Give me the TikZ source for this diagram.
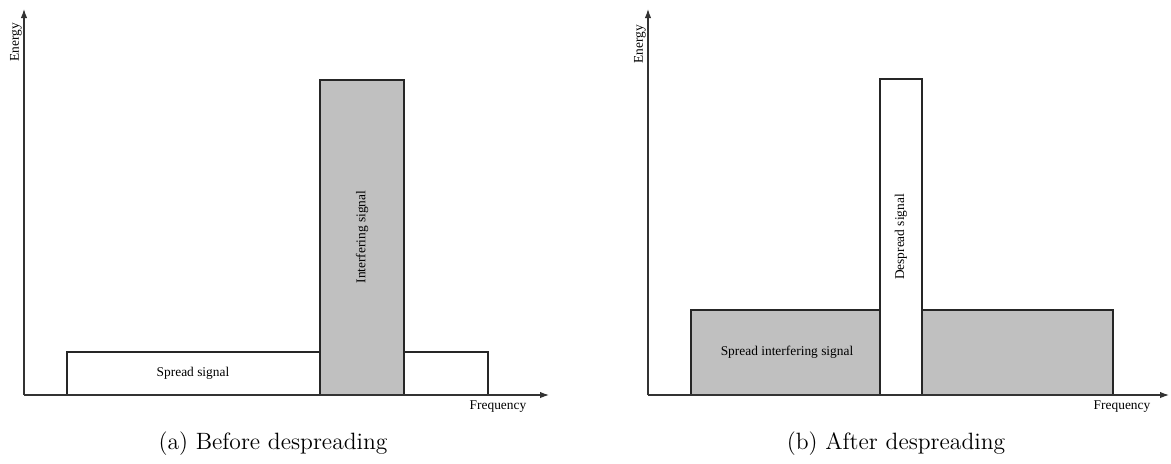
\documentclass[tikz,border=0pt]{standalone}
\usepackage{fontspec}
\newfontfamily\tnr{Liberation Serif}
\usetikzlibrary{arrows.meta}
\definecolor{sig}{RGB}{192,192,192}
\tikzset{
  axis/.style={line width=0.55pt, draw=black!80, -{Latex[length=4.5pt,width=3.2pt]}},
  band/.style={line width=0.75pt, draw=black!85},
  lbl/.style={font=\tnr\fontsize{6.7}{7.5}\selectfont, inner sep=0pt},
  captext/.style={font=\fontsize{11.8}{14}\selectfont, inner sep=0pt}
}
\begin{document}
\begin{tikzpicture}[x=0.5pt,y=-0.5pt]
\useasboundingbox (0,0) rectangle (1171,463);
% ---------- left plot ----------
\coordinate (lo) at (24,395);
\coordinate (ly) at (24,9);
\coordinate (lx) at (549,395);
\draw[band, fill=white] (67,352) rectangle (488,395);
\draw[band, fill=sig] (320,80) rectangle (404,395);
\draw[axis] (lo) -- (ly);
\draw[axis] (lo) -- (lx);
\node[lbl, rotate=90] (le) at (16,42) {Energy};
\node[lbl] (lf) at (498,407) {Frequency};
\node[lbl] (ls) at (193,373) {Spread signal};
\node[lbl, rotate=90] (li) at (362,237) {Interfering signal};
\node[captext] (ca) at (273,444) {(a) Before despreading};
% ---------- right plot ----------
\coordinate (ro) at (648,395);
\coordinate (ry) at (648,9);
\coordinate (rx) at (1169,395);
\draw[band, fill=sig] (691,310) rectangle (1113,395);
\draw[band, fill=white] (880,79) rectangle (922,395);
\draw[axis] (ro) -- (ry);
\draw[axis] (ro) -- (rx);
\node[lbl, rotate=90] (re) at (640,44) {Energy};
\node[lbl] (rf) at (1122,407) {Frequency};
\node[lbl] (rs) at (787,352) {Spread interfering signal};
\node[lbl, rotate=90] (rd) at (901,237) {Despread signal};
\node[captext] (cb) at (896,444) {(b) After despreading};
\end{tikzpicture}
\end{document}
